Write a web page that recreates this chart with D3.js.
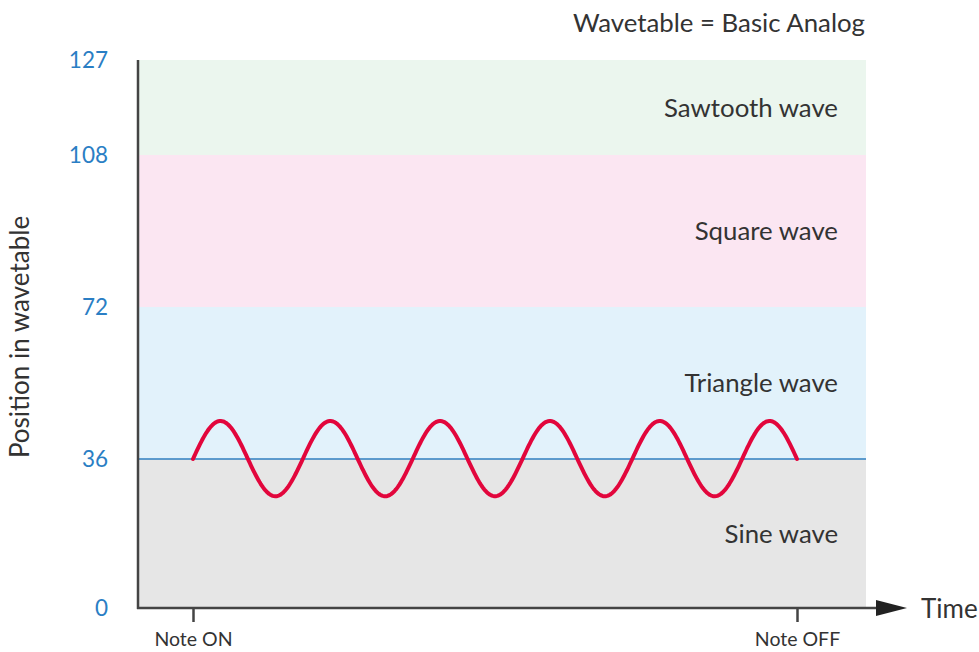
<!DOCTYPE html>
<html>
<head>
<meta charset="utf-8">
<script src="https://cdn.jsdelivr.net/npm/d3@7/dist/d3.min.js"></script>
<style>
  html, body { margin: 0; padding: 0; background: #fff; }
  svg { display: block; font-family: Lato, "Open Sans", sans-serif; }
</style>
</head>
<body>
<svg id="chart" width="979" height="652"></svg>
<script>
// Wavetable regions (position ranges) and their names
const regionNames = ["Sine wave", "Triangle wave", "Square wave", "Sawtooth wave"];
const regionStarts = [0, 36, 72, 108];
const regionEnds = [36, 72, 108, 127];
const regionColors = ["#e6e6e6", "#e2f2fb", "#fbe6f2", "#ebf6ee"];

// Y tick values shown on the axis
const yTicks = [0, 36, 72, 108, 127];

// Time markers along the x axis
const timeLabels = ["Note ON", "Note OFF"];
const timeValues = [0, 1];

// Modulated position: centred on 36, swinging 9 steps, 5.5 cycles between Note ON and OFF
const waveCenter = 36;
const waveAmplitude = 9;
const waveCycles = 5.5;

const FONT = "Lato, \"Open Sans\", sans-serif";
const svg = d3.select("#chart");

const plotLeft = 138, plotRight = 866, plotTop = 60, plotBottom = 608;

// Each region gets roughly the same height on screen (schematic spacing)
const y = d3.scaleLinear()
  .domain([0, 36, 72, 108, 127])
  .range([plotBottom, 459, 307, 155, plotTop]);

const x = d3.scaleLinear()
  .domain([0, 1])
  .range([193, 797]);

const regions = regionNames.map((n, i) => ({ name: n, start: regionStarts[i], end: regionEnds[i], color: regionColors[i] }));

// Region bands
svg.append("g").selectAll("rect")
  .data(regions)
  .join("rect")
  .attr("x", plotLeft)
  .attr("width", plotRight - plotLeft)
  .attr("y", d => y(d.end))
  .attr("height", d => y(d.start) - y(d.end))
  .attr("fill", d => d.color);

// Region labels, right aligned and vertically centred in each band
svg.append("g").selectAll("text")
  .data(regions)
  .join("text")
  .attr("x", 838)
  .attr("y", d => (y(d.start) + y(d.end)) / 2)
  .attr("dy", "0.35em")
  .attr("text-anchor", "end")
  .attr("font-size", 25.8)
  .attr("fill", "#333")
  .text(d => d.name);

// Baseline at the centre position
svg.append("line")
  .attr("x1", plotLeft).attr("x2", plotRight)
  .attr("y1", y(waveCenter)).attr("y2", y(waveCenter))
  .attr("stroke", "#2f7fc1")
  .attr("stroke-width", 1.6);

// Modulation curve
const samples = d3.range(0, 1.0001, 0.002);
const line = d3.line()
  .x(t => x(t))
  .y(t => y(waveCenter + waveAmplitude * Math.sin(2 * Math.PI * waveCycles * t)));
svg.append("path")
  .datum(samples)
  .attr("d", line)
  .attr("fill", "none")
  .attr("stroke", "#e2063c")
  .attr("stroke-width", 4)
  .attr("stroke-linecap", "round")
  .attr("stroke-linejoin", "round");

// Y axis
const yAxis = d3.axisLeft(y).tickValues(yTicks).tickSize(0).tickPadding(30).tickFormat(d3.format("d"));
const gy = svg.append("g").attr("transform", `translate(${plotLeft},0)`).call(yAxis);
gy.select(".domain").remove();
gy.attr("font-family", FONT).attr("font-size", 22.5);
gy.selectAll("text").attr("fill", "#2a7ec4");

svg.append("line")
  .attr("x1", plotLeft).attr("x2", plotLeft)
  .attr("y1", plotTop).attr("y2", plotBottom + 1)
  .attr("stroke", "#444").attr("stroke-width", 2.5);

// X axis with arrow
svg.append("line")
  .attr("x1", plotLeft - 1).attr("x2", 880)
  .attr("y1", plotBottom).attr("y2", plotBottom)
  .attr("stroke", "#444").attr("stroke-width", 2.5);
svg.append("path")
  .attr("d", d3.line()([[876, plotBottom - 8], [907, plotBottom], [876, plotBottom + 8]]) + "Z")
  .attr("fill", "#222");

const xAxis = d3.axisBottom(x).tickValues(timeValues).tickSize(14).tickPadding(10)
  .tickFormat((d, i) => timeLabels[i]);
const gx = svg.append("g").attr("transform", `translate(0,${plotBottom})`).call(xAxis);
gx.select(".domain").remove();
gx.attr("font-family", FONT).attr("font-size", 19.5);
gx.selectAll(".tick line").attr("stroke", "#444").attr("stroke-width", 2.5);
gx.selectAll("text").attr("fill", "#333");

svg.append("text")
  .attr("x", 921).attr("y", plotBottom + 1).attr("dy", "0.35em")
  .attr("font-size", 26).attr("fill", "#333")
  .text("Time");

// Y axis title
svg.append("text")
  .attr("transform", "translate(20,337) rotate(-90)")
  .attr("dy", "0.35em")
  .attr("text-anchor", "middle")
  .attr("font-size", 26).attr("fill", "#333")
  .text("Position in wavetable");

// Wavetable title
svg.append("text")
  .attr("x", 865).attr("y", 23).attr("dy", "0.35em")
  .attr("text-anchor", "end")
  .attr("font-size", 25.8).attr("fill", "#333")
  .text("Wavetable = Basic Analog");
</script>
</body>
</html>
